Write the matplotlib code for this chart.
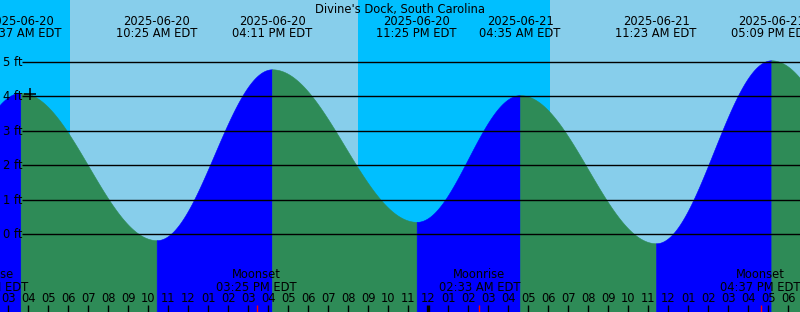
import numpy as np
import pandas as pd
import matplotlib
matplotlib.use('Agg')
import matplotlib.pyplot as plt
import matplotlib.transforms as mtransforms

# tide extremes (two outside the window so the edges are drawn)
tide_times = ['2025-06-19 22:20', '2025-06-20 03:37', '2025-06-20 10:25', '2025-06-20 16:11',
              '2025-06-20 23:25', '2025-06-21 04:35', '2025-06-21 11:23', '2025-06-21 17:09',
              '2025-06-21 23:50']
tide_heights = [0.35, 4.1, -0.17, 4.78, 0.36, 4.03, -0.26, 5.04, 0.3]
labelled = [False, True, True, True, True, True, True, True, False]

# sun: sunrise/sunset
sun_times = ['2025-06-20 06:05', '2025-06-20 20:29', '2025-06-21 06:05', '2025-06-21 20:29']
sun_kinds = ['rise', 'set', 'rise', 'set']

# moon events
moon_times = ['2025-06-20 01:58', '2025-06-20 15:25', '2025-06-21 02:33', '2025-06-21 16:37']
moon_names = ['Moonrise', 'Moonset', 'Moonrise', 'Moonset']

height_lines = [0, 1, 2, 3, 4, 5]
start = pd.Timestamp('2025-06-20 02:35')
n_hours = 40
title = "Divine's Dock, South Carolina"

W, H = 800, 312
px_per_hour = W / n_hours
px_per_ft = 34.52
zero_px = 234.3
fs = 8.3


def hrs(ts):
    return (pd.Timestamp(ts) - start).total_seconds() / 3600.0


def yfrac(ypix):
    return 1 - ypix / H


ymax = zero_px / px_per_ft
ymin = -(H - zero_px) / px_per_ft

fig = plt.figure(figsize=(W / 100, H / 100), dpi=100)
ax = fig.add_axes([0, 0, 1, 1])
ax.set_xlim(0, n_hours)
ax.set_ylim(ymin, ymax)
ax.axis('off')

night = '#00bfff'
day = '#87ceeb'

# day / night background
edges = [0] + [hrs(t) for t in sun_times] + [n_hours]
colors = [night] + [day if k == 'rise' else night for k in sun_kinds]
for a, b, c in zip(edges[:-1], edges[1:], colors):
    ax.axvspan(max(a, 0), min(b, n_hours), color=c, lw=0, zorder=0)

# tide curve: cosine between extremes, blue when rising, green when falling
tx = [hrs(t) for t in tide_times]
for i in range(len(tx) - 1):
    t = np.linspace(tx[i], tx[i + 1], 300)
    f = (t - tx[i]) / (tx[i + 1] - tx[i])
    h0, h1 = tide_heights[i], tide_heights[i + 1]
    h = h1 + (h0 - h1) * (1 + np.cos(np.pi * f)) / 2
    col = 'blue' if h1 > h0 else '#2e8b57'
    ax.fill_between(t, h, ymin, color=col, lw=0.4, edgecolor=col, zorder=1)

trans = mtransforms.blended_transform_factory(ax.transData, ax.transAxes)

# height lines and labels
for v in height_lines:
    ax.hlines(v, 22 / px_per_hour, n_hours, color='black', lw=1.0, zorder=2)
    ypix = zero_px - v * px_per_ft
    ax.text(2.7 / px_per_hour, yfrac(ypix + 4.2), f'{v} ft', transform=trans,
            fontsize=fs, ha='left', va='baseline', zorder=3)

ax.plot(30 / px_per_hour, 4.06, marker='+', color='black', ms=8, mew=1.1, zorder=3)

# title and extreme labels
ax.text(0.5, yfrac(13), title, transform=ax.transAxes, ha='center', va='baseline', fontsize=fs)
for ts, show in zip(tide_times, labelled):
    if not show:
        continue
    tt = pd.Timestamp(ts)
    x = hrs(ts)
    ax.text(x, yfrac(25), tt.strftime('%Y-%m-%d'), transform=trans, ha='center', va='baseline', fontsize=fs)
    ax.text(x, yfrac(37), tt.strftime('%I:%M %p EDT'), transform=trans, ha='center', va='baseline', fontsize=fs)

# hour ticks, thick one at midnight
for k in range(0, n_hours + 1):
    hour_ts = start.ceil('h') + pd.Timedelta(hours=k)
    x = hrs(hour_ts)
    if x > n_hours:
        break
    lw = 2.4 if hour_ts.hour == 0 else 1.0
    ax.plot([x, x], [yfrac(305), 0], transform=trans, color='black', lw=lw, solid_capstyle='butt', zorder=3)
    ax.text(x, yfrac(301.7), hour_ts.strftime('%I'), transform=trans, ha='center', va='baseline', fontsize=fs, zorder=3)

# moon events
for ts, name in zip(moon_times, moon_names):
    x = hrs(ts)
    tt = pd.Timestamp(ts)
    ax.plot([x, x], [yfrac(305), 0], transform=trans, color='red', lw=1.0, solid_capstyle='butt', zorder=3)
    ax.text(x, yfrac(278.3), name, transform=trans, ha='center', va='baseline', fontsize=fs, zorder=3)
    ax.text(x, yfrac(291), tt.strftime('%I:%M %p EDT'), transform=trans, ha='center', va='baseline', fontsize=fs, zorder=3)

fig.savefig('out.png', dpi=100)
